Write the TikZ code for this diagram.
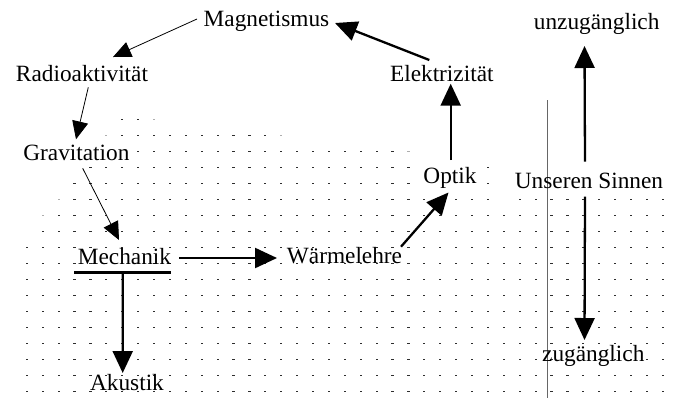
\documentclass[tikz,border=0pt]{standalone}
\usepackage{fontspec}
\setmainfont{Liberation Serif}
\usetikzlibrary{arrows.meta}

\begin{document}
\begin{tikzpicture}[x=1bp,y=-1bp,
  lbl/.style={anchor=base,inner sep=0pt,font=\fontsize{23.3bp}{28bp}\selectfont},
  thinarrow/.style={line width=0.8bp,-{Triangle[length=18bp,width=16bp]}},
  thickarrow/.style={line width=2.3bp,-{Triangle[length=22bp,width=20bp]}},
  griddot/.style={fill=black!82},
  faintdot/.style={fill=black!32},
  divider/.style={draw=black!60,line width=0.8bp}]

\useasboundingbox[fill=white] (0,0) rectangle (674,403);

% dotted paper background
\foreach \r/\a/\b in {0/6/7,1/6/15,2/7/23,3/4/24,4/3/24,5/3/29,6/2/40,7/1/40,
                      8/0/40,9/0/40,10/0/40,11/0/40,12/0/40,13/0/40,14/0/40,
                      15/0/40,16/0/40,17/0/40}{
  \foreach \k in {\a,...,\b}{
    \fill[griddot] ({26.8+15.9*\k-1.1},{119.5+16*\r-0.9}) rectangle ++(2.2,1.8);
  }
}
\foreach \r/\k in {3/29,4/29,5/31,5/32,5/33,5/34,5/35,5/36,5/37,5/38,5/39,5/40}{
  \fill[griddot] ({26.8+15.9*\k-1.1},{119.5+16*\r-0.9}) rectangle ++(2.2,1.8);
}
\foreach \r/\k in {0/8,1/5,1/16,2/24,5/2,6/1}{
  \fill[faintdot] ({26.8+15.9*\k-1.1},{119.5+16*\r-0.9}) rectangle ++(2.2,1.8);
}

% separator line
\draw[divider] (547,100) -- (547,398);

% labels
\node[lbl] (mag)  at (266.5,26)  {Magnetismus};
\node[lbl] (rad)  at (82,81)     {Radioaktivität};
\node[lbl] (grav) at (76.4,160.5){Gravitation};
\node[lbl] (mech) at (124.5,264) {Mechanik};
\node[lbl] (aku)  at (127,390)   {Akustik};
\node[lbl] (warm) at (344.5,263) {Wärmelehre};
\node[lbl] (opt)  at (450,183.5) {Optik};
\node[lbl] (elek) at (441.8,81)  {Elektrizität};
\node[lbl] (uns)  at (589,188.3) {Unseren Sinnen};
\node[lbl] (unz)  at (596.7,29.3){unzugänglich};
\node[lbl] (zug)  at (593.3,361.7){zugänglich};

% bar under Mechanik
\draw[line width=3.3bp] ([shift={(-50.5,8.3)}]mech.base) -- ([shift={(46.5,8.3)}]mech.base);

% connectors
\draw[thinarrow] ([shift={(-69.5,-7)}]mag.base) -- ([shift={(31,-24)}]rad.base);
\draw[thinarrow] ([shift={(6.3,6.3)}]rad.base) -- ([shift={(-0.4,-21.2)}]grav.base);
\draw[thinarrow] ([shift={(6.3,7.8)}]grav.base) -- ([shift={(-5.5,-24)}]mech.base);
\draw[thickarrow] ([shift={(54.5,-6)}]mech.base) -- ([shift={(-67.5,-5)}]warm.base);
\draw[thickarrow] ([shift={(-1.8,8.3)}]mech.base) -- ([shift={(-4.3,-17)}]aku.base);
\draw[thickarrow] ([shift={(56.5,-16.3)}]warm.base) -- ([shift={(-1.5,9)}]opt.base);
\draw[thickarrow] ([shift={(0.7,-23.5)}]opt.base) -- ([shift={(8.9,2.7)}]elek.base);
\draw[thickarrow] ([shift={(-12.5,-21)}]elek.base) -- ([shift={(68.5,-3)}]mag.base);
\draw[thickarrow] ([shift={(-4,-26.6)}]uns.base) -- ([shift={(-12.2,16.7)}]unz.base);
\draw[thickarrow] ([shift={(-4,8.4)}]uns.base) -- ([shift={(-8.8,-21.7)}]zug.base);

\end{tikzpicture}
\end{document}
